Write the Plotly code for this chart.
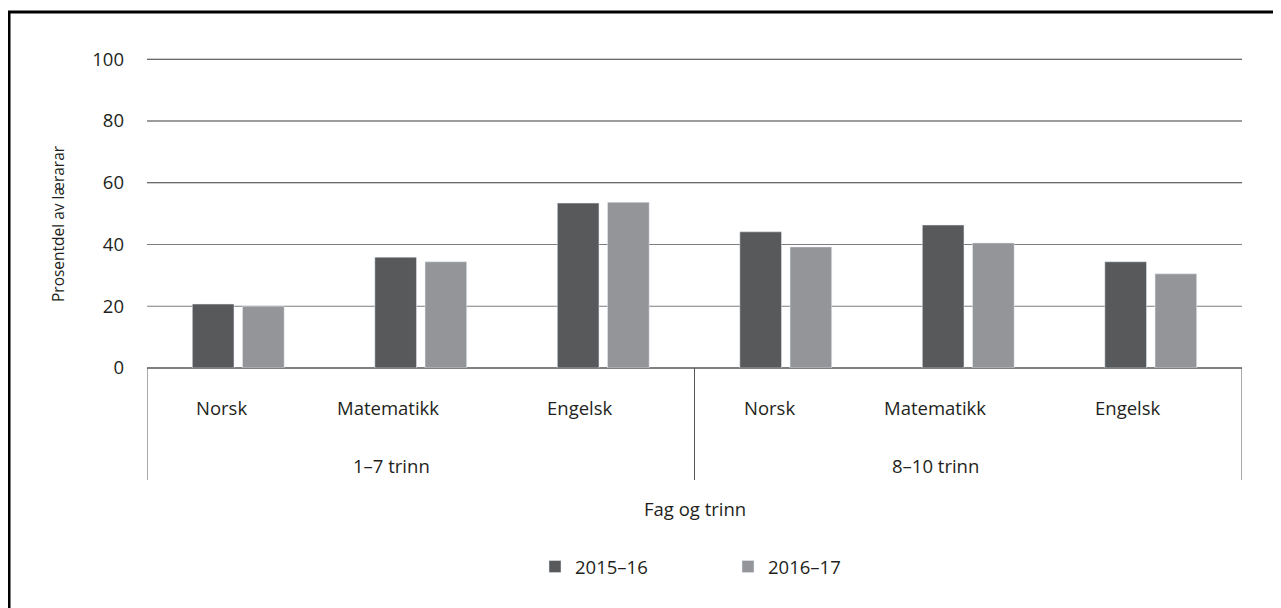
import plotly.graph_objects as go

# data
subjects = ["Norsk", "Matematikk", "Engelsk", "Norsk", "Matematikk", "Engelsk"]
levels = ["1–7 trinn", "8–10 trinn"]
years = ["2015–16", "2016–17"]
share_2015_16 = [20.7, 35.9, 53.4, 44.1, 46.3, 34.4]
share_2016_17 = [20.0, 34.4, 53.7, 39.2, 40.5, 30.5]
y_ticks = [0, 20, 40, 60, 80, 100]

FONT = "Open Sans"
FS = 18.5
TXT = "#231f20"
OFF = 8  # page body margin around the plot div
W, H = 1281 - OFF, 608 - OFF
ML, MR, MT, MB = 147 - OFF, 39, 59 - OFF - 1, 240
PW, PH = W - ML - MR, H - MT - MB

xs = list(range(len(subjects)))

fig = go.Figure()
fig.add_trace(go.Bar(x=xs, y=share_2015_16, name=years[0], marker_color="#58595b"))
fig.add_trace(go.Bar(x=xs, y=share_2016_17, name=years[1], marker_color="#949598"))


def py(page_y):
    # page pixel row -> paper y
    return (H - MB - (page_y - OFF)) / PH


def px(page_x):
    return (page_x - OFF - ML) / PW


# the category labels in the original sit a bit left of the bar groups
def lab_shift(t):
    return -3.3 * len(t)


annotations = []
for i, s in enumerate(subjects):
    annotations.append(dict(x=i, y=0, xref="x", yref="paper", yshift=-39, xshift=lab_shift(s),
                            text=s, showarrow=False, yanchor="middle",
                            font=dict(family=FONT, size=FS, color=TXT)))
n_per = len(subjects) // len(levels)
for j, lv in enumerate(levels):
    annotations.append(dict(x=j * n_per + (n_per - 1) / 2, y=0, xref="x", yref="paper",
                            yshift=-97, xshift=lab_shift(lv), text=lv, showarrow=False,
                            yanchor="middle", font=dict(family=FONT, size=FS, color=TXT)))
annotations.append(dict(x=0.5, y=py(508), xref="paper", yref="paper", text="Fag og trinn",
                        showarrow=False, yanchor="middle",
                        font=dict(family=FONT, size=FS, color=TXT)))
annotations.append(dict(x=px(58), y=py(224), xref="paper", yref="paper",
                        text="Prosentdel av lærarar", textangle=-90, showarrow=False,
                        xanchor="center", yanchor="middle",
                        font=dict(family=FONT, size=15.5, color=TXT)))

shapes = []
# gridlines: the lower ones look lighter in the original
for v in y_ticks:
    if v > 0:
        col = "#7d7d7f" if v < 50 else "#3a3a3a"
        shapes.append(dict(type="line", xref="paper", yref="y", x0=0, x1=1, y0=v, y1=v,
                           layer="below", line=dict(color=col, width=1.2)))
# group dividers below the axis
for b in [-0.5] + [j * n_per + n_per - 0.5 for j in range(len(levels))]:
    shapes.append(dict(type="line", xref="x", yref="paper", x0=b, x1=b, y0=0, y1=py(480),
                       line=dict(color="#555555", width=1)))
# frame lines (top and left only)
shapes.append(dict(type="line", xref="paper", yref="paper", x0=px(OFF), x1=px(1281), y0=py(12), y1=py(12),
                   line=dict(color="black", width=3)))
shapes.append(dict(type="line", xref="paper", yref="paper", x0=px(OFF + 1), x1=px(OFF + 1), y0=py(12), y1=py(608),
                   line=dict(color="black", width=3)))

fig.update_layout(
    width=W, height=H,
    margin=dict(l=ML, r=MR, t=MT, b=MB),
    paper_bgcolor="white", plot_bgcolor="white",
    barmode="group", bargap=0.45, bargroupgap=0.17,
    font=dict(family=FONT, size=FS, color=TXT),
    showlegend=True,
    legend=dict(orientation="h", x=px(535), xanchor="left", y=py(567), yanchor="middle",
                font=dict(family=FONT, size=FS, color=TXT), itemwidth=30,
                entrywidth=148, entrywidthmode="pixels"),
    annotations=annotations,
    shapes=shapes,
)
fig.update_xaxes(range=[-0.5, len(subjects) - 0.5], showticklabels=False, showgrid=False,
                 zeroline=False, showline=False)
fig.update_yaxes(range=[0, 100.4], tickvals=y_ticks, showgrid=False,
                 zeroline=True, zerolinecolor="#808080", zerolinewidth=1.5,
                 ticklabelstandoff=22, tickfont=dict(family=FONT, size=FS, color=TXT))

fig.write_html("out.html")
